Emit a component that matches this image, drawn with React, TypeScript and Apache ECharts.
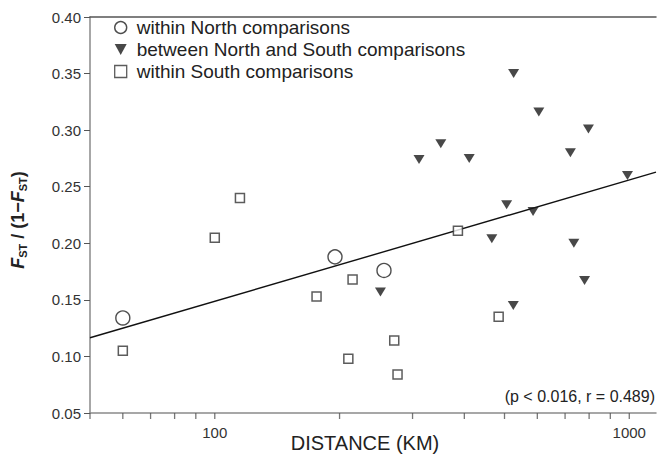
import React, { useEffect, useRef } from "react";
import * as echarts from "echarts";

// within North comparisons
const northX = [60, 195, 256];
const northY = [0.134, 0.188, 0.176];

// between North and South comparisons
const betweenX = [311, 351, 411, 251, 526, 605, 797, 721, 990, 506, 586, 466, 735, 780, 525];
const betweenY = [0.274, 0.288, 0.275, 0.157, 0.350, 0.316, 0.301, 0.280, 0.260, 0.234, 0.228, 0.204, 0.200, 0.167, 0.145];

// within South comparisons
const southX = [60, 115, 100, 176, 215, 386, 210, 271, 276, 484];
const southY = [0.105, 0.240, 0.205, 0.153, 0.168, 0.211, 0.098, 0.114, 0.084, 0.135];

// regression line end points
const fitX = [50, 1160];
const fitY = [0.1165, 0.2629];

// axis ticks
const xTickValues = [50, 60, 70, 80, 90, 100, 200, 300, 400, 500, 600, 700, 800, 900, 1000];
const xLabelValues = [100, 1000];

const zip = (xs: number[], ys: number[]) => xs.map((x, i) => [x, ys[i]]);

export default function App() {
  const ref = useRef<HTMLDivElement>(null);
  useEffect(() => {
    if (!ref.current) return;
    const chart = echarts.init(ref.current, undefined, { renderer: "svg" });
    const font = "'Liberation Sans', Arial, sans-serif";
    chart.setOption({
      animation: false,
      backgroundColor: "#fff",
      textStyle: { fontFamily: font },
      grid: { left: 90, top: 17, right: 2, bottom: 42 },
      legend: {
        orient: "vertical",
        left: 114,
        top: 18,
        padding: 0,
        itemWidth: 12,
        itemHeight: 12,
        itemGap: 3,
        symbolKeepAspect: true,
        textStyle: { fontSize: 19, color: "#222", fontFamily: font, padding: [0, 0, 0, 5] },
        data: [
          {
            name: "within North comparisons",
            icon: "circle",
            itemStyle: { color: "#fff", borderColor: "#222", borderWidth: 1.4 },
          },
          {
            name: "between North and South comparisons",
            icon: "path://M0,0L10,0L5,9Z",
            itemStyle: { color: "#1a1a1a", borderWidth: 0 },
          },
          {
            name: "within South comparisons",
            icon: "path://M0,0L10,0L10,10L0,10Z",
            itemStyle: { color: "#fff", borderColor: "#333", borderWidth: 1.3 },
          },
        ],
      },
      xAxis: [
        {
          type: "log",
          logBase: 10,
          min: 50,
          max: 1160,
          axisLine: { lineStyle: { color: "#8a8a8a", width: 1.5 } },
          axisTick: { show: false },
          splitLine: { show: false },
          axisLabel: {
            fontSize: 15,
            color: "#333",
            margin: 12,
            formatter: (v: number) => {
              const r = Math.round(v);
              return xLabelValues.includes(r) ? String(r) : "";
            },
          },
        },
        {
          type: "log",
          logBase: 10,
          min: 50,
          max: 1160,
          position: "top",
          axisLine: { lineStyle: { color: "#555", width: 1.5 } },
          axisTick: { show: false },
          axisLabel: { show: false },
          splitLine: { show: false },
        },
      ],
      yAxis: {
        type: "value",
        min: 0.05,
        max: 0.4,
        interval: 0.05,
        axisLine: { show: true, lineStyle: { color: "#8a8a8a", width: 1.5 } },
        axisTick: { show: true, length: 6, lineStyle: { color: "#555" } },
        splitLine: { show: false },
        axisLabel: {
          fontSize: 15,
          color: "#333",
          margin: 9,
          formatter: (v: number) => v.toFixed(2),
        },
      },
      series: [
        {
          name: "x ticks",
          type: "scatter",
          silent: true,
          clip: false,
          symbol: "rect",
          symbolSize: [1.3, 6],
          symbolOffset: [0, 3],
          itemStyle: { color: "#555" },
          data: xTickValues.map((v) => [v, 0.05]),
          z: 1,
        },
        {
          name: "fit",
          type: "line",
          showSymbol: false,
          symbol: "none",
          lineStyle: { color: "#111", width: 1.4 },
          data: zip(fitX, fitY),
          z: 2,
        },
        {
          name: "within North comparisons",
          type: "scatter",
          symbol: "circle",
          symbolSize: 14,
          itemStyle: { color: "#fff", borderColor: "#222", borderWidth: 1.4 },
          data: zip(northX, northY),
          z: 3,
        },
        {
          name: "between North and South comparisons",
          type: "scatter",
          symbol: "triangle",
          symbolRotate: 180,
          symbolSize: [11, 9],
          itemStyle: { color: "#1a1a1a" },
          data: zip(betweenX, betweenY),
          z: 3,
        },
        {
          name: "within South comparisons",
          type: "scatter",
          symbol: "rect",
          symbolSize: 9,
          itemStyle: { color: "#fff", borderColor: "#333", borderWidth: 1.5 },
          data: zip(southX, southY),
          z: 3,
        },
      ],
      graphic: [
        {
          type: "text",
          x: 18,
          y: 220,
          rotation: Math.PI / 2,
          style: {
            text: "{fi|F}{sub|ST}{n| / (1−}{fi|F}{sub|ST}{n|)}",
            textAlign: "center",
            textVerticalAlign: "middle",
            fill: "#222",
            rich: {
              fi: { fontSize: 18, fontStyle: "italic", fontWeight: "bold", fontFamily: font, fill: "#222", lineHeight: 22 },
              n: { fontSize: 18, fontWeight: "bold", fontFamily: font, fill: "#222", lineHeight: 22 },
              sub: { fontSize: 11, fontWeight: "bold", fontFamily: font, fill: "#222", lineHeight: 22, padding: [9, 0, 0, 0] },
            },
          },
        },
        {
          type: "text",
          x: 365,
          y: 443,
          style: {
            text: "DISTANCE (KM)",
            textAlign: "center",
            textVerticalAlign: "middle",
            fontSize: 20,
            fontFamily: font,
            fill: "#222",
          },
        },
        {
          type: "text",
          x: 655,
          y: 396,
          style: {
            text: "(p < 0.016, r = 0.489)",
            textAlign: "right",
            textVerticalAlign: "middle",
            fontSize: 16,
            fontFamily: font,
            fill: "#222",
          },
        },
      ],
    });
    return () => chart.dispose();
  }, []);
  return (
    <div
      ref={ref}
      style={{ position: "fixed", left: 0, top: 0, width: 659, height: 455 }}
    />
  );
}
